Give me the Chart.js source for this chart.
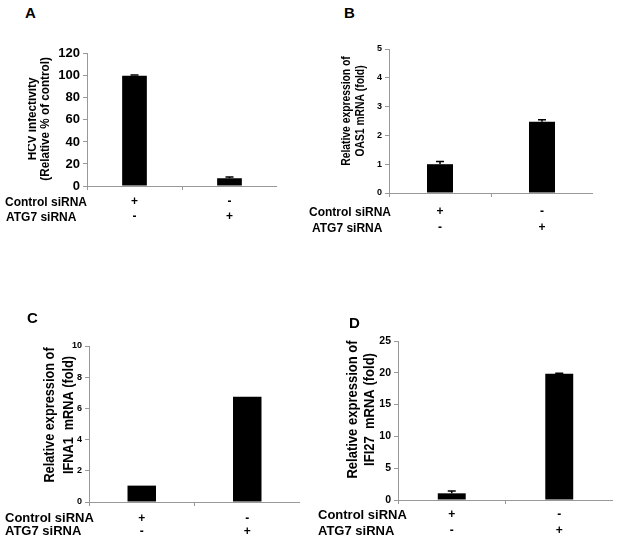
<!DOCTYPE html>
<html><head><meta charset="utf-8">
<script src="https://cdn.jsdelivr.net/npm/chart.js@4"></script>
<style>
body{margin:0;width:620px;height:541px;background:#fff;position:relative;overflow:hidden;font-family:'Liberation Sans',Arial,sans-serif;}
canvas{position:absolute;}
.t{position:absolute;font-weight:bold;color:#000;white-space:pre;}
</style></head><body>
<script>
// ---- data ----
const rowLabels = ['Control siRNA', 'ATG7 siRNA'];
const controlSiRNA = ['+', '-'];
const atg7SiRNA = ['-', '+'];
const panelLetters = ['A', 'B', 'C', 'D'];

const hcvInfectivity = [100, 7];
const hcvInfectivityErr = [0.8, 1.2];
const oas1Fold = [1.0, 2.47];
const oas1FoldErr = [0.09, 0.07];
const ifna1Fold = [1.05, 6.75];
const ifna1FoldErr = [0, 0];
const ifi27Fold = [1.05, 19.85];
const ifi27FoldErr = [0.35, 0.08];

const yTitleA = ['HCV infectivity', '(Relative % of control)'];
const yTitleB = ['Relative expression of', 'OAS1 mRNA (fold)'];
const yTitleC = ['Relative expression of', 'IFNA1  mRNA (fold)'];
const yTitleD = ['Relative expression of', 'IFI27  mRNA (fold)'];
const yMax = [120, 5, 10, 25];
const yStep = [20, 1, 2, 5];

// ---- layout ----
const FONT = "'Liberation Sans', Arial, sans-serif";
const panels = [
  {values: hcvInfectivity, err: hcvInfectivityErr, title: yTitleA, L: 28, T: 43, W: 249, H: 187, yW: 59, xH: 44, pt: 10,
   tickFont: 13, titleFont: 13, titleSqueeze: 0.9, titleX: [4.5, 17], titleDy: -1, barPct: 0.26, xPad: 4.5, xLH: 15,
   letter: {x: 25, y: 4, s: 15}, rows: [{x: 5, y: 202}, {x: 6, y: 217}], rowFont: 12},
  {values: oas1Fold, err: oas1FoldErr, title: yTitleB, L: 340, T: 39, W: 253, H: 201, yW: 49, xH: 47, pt: 10,
   tickFont: 9, titleFont: 12, titleSqueeze: 0.86, titleX: [7, 21], titleDy: -10, barPct: 0.255, xPad: 7, xLH: 16,
   letter: {x: 344, y: 4, s: 15}, rows: [{x: 309, y: 212}, {x: 312, y: 228}], rowFont: 12},
  {values: ifna1Fold, err: ifna1FoldErr, title: yTitleC, L: 40, T: 336, W: 260, H: 205, yW: 49, xH: 39, pt: 10,
   tickFont: 9, titleFont: 14, titleSqueeze: 0.91, titleX: [10, 29], titleDy: -9, barPct: 0.27, xPad: 6, xLH: 13,
   letter: {x: 27, y: 309, s: 15}, rows: [{x: 5, y: 518}, {x: 5, y: 531}], rowFont: 13},
  {values: ifi27Fold, err: ifi27FoldErr, title: yTitleD, L: 344, T: 331, W: 269, H: 210, yW: 54, xH: 41, pt: 10,
   tickFont: 10.5, titleFont: 14, titleSqueeze: 0.93, titleX: [9, 26], titleDy: -11, barPct: 0.26, xPad: 3, xLH: 16,
   letter: {x: 349, y: 314, s: 15}, rows: [{x: 318, y: 515}, {x: 318, y: 531}], rowFont: 13},
];

const errorBars = {
  id: 'errorBars',
  afterDatasetsDraw(chart, args, opts) {
    const ctx = chart.ctx;
    const ys = chart.scales.y;
    const meta = chart.getDatasetMeta(0);
    const ds = chart.data.datasets[0];
    ctx.save();
    ctx.strokeStyle = '#000';
    ctx.lineWidth = 1.5;
    meta.data.forEach((bar, i) => {
      const e = opts.err[i];
      if (!e) return;
      const yTop = ys.getPixelForValue(ds.data[i] + e);
      ctx.beginPath();
      ctx.moveTo(bar.x, bar.y);
      ctx.lineTo(bar.x, yTop);
      ctx.moveTo(bar.x - 4, yTop);
      ctx.lineTo(bar.x + 4, yTop);
      ctx.stroke();
    });
    ctx.restore();
  }
};

// vertical axis title drawn beside the y scale (two lines)
const yAxisTitle = {
  id: 'yAxisTitle',
  afterDraw(chart, args, opts) {
    const ctx = chart.ctx;
    const ca = chart.chartArea;
    const yc = (ca.top + ca.bottom) / 2 + opts.dy;
    ctx.save();
    ctx.fillStyle = '#000';
    ctx.font = 'bold ' + opts.size + 'px ' + FONT;
    ctx.textAlign = 'center';
    ctx.textBaseline = 'middle';
    opts.text.forEach((line, i) => {
      ctx.save();
      ctx.translate(opts.x[i], yc);
      ctx.rotate(-Math.PI / 2);
      ctx.scale(opts.squeeze, 1);
      ctx.fillText(line, 0, 0);
      ctx.restore();
    });
    ctx.restore();
  }
};

const xLabels = controlSiRNA.map((c, i) => [c, atg7SiRNA[i]]);

panels.forEach((p, k) => {
  const cv = document.createElement('canvas');
  cv.width = p.W; cv.height = p.H;
  cv.style.left = p.L + 'px'; cv.style.top = p.T + 'px';
  cv.style.width = p.W + 'px'; cv.style.height = p.H + 'px';
  document.body.appendChild(cv);

  new Chart(cv, {
    type: 'bar',
    data: {labels: xLabels, datasets: [{data: p.values, backgroundColor: '#000', borderWidth: 0,
      categoryPercentage: 1, barPercentage: p.barPct}]},
    options: {
      responsive: false, animation: false, devicePixelRatio: 1,
      layout: {padding: {top: p.pt, left: 0, right: 0, bottom: 0}},
      plugins: {legend: {display: false}, tooltip: {enabled: false},
        errorBars: {err: p.err},
        yAxisTitle: {text: p.title, size: p.titleFont, squeeze: p.titleSqueeze, x: p.titleX, dy: p.titleDy}},
      scales: {
        x: {
          offset: true,
          grid: {display: true, offset: true, drawOnChartArea: false, drawTicks: true, tickLength: 4, color: '#999'},
          border: {display: true, color: '#999', width: 1},
          ticks: {color: '#000', padding: p.xPad, font: {family: FONT, size: 12, weight: 'bold', lineHeight: p.xLH + 'px'}, maxRotation: 0, autoSkip: false},
          afterFit(s) { s.height = p.xH; }
        },
        y: {
          min: 0, max: yMax[k],
          grid: {display: true, drawOnChartArea: false, drawTicks: true, tickLength: 4, color: '#999'},
          border: {display: true, color: '#999', width: 1},
          ticks: {stepSize: yStep[k], color: '#000', padding: 3, font: {family: FONT, size: p.tickFont, weight: 'bold'}},
          title: {display: false},
          afterFit(s) { s.width = p.yW; }
        }
      }
    },
    plugins: [errorBars, yAxisTitle]
  });

  const lt = document.createElement('div');
  lt.className = 't';
  lt.textContent = panelLetters[k];
  lt.style.left = p.letter.x + 'px'; lt.style.top = p.letter.y + 'px';
  lt.style.fontSize = p.letter.s + 'px'; lt.style.lineHeight = '18px';
  document.body.appendChild(lt);

  rowLabels.forEach((r, j) => {
    const d = document.createElement('div');
    d.className = 't';
    d.textContent = r;
    d.style.left = p.rows[j].x + 'px';
    d.style.top = (p.rows[j].y - 8) + 'px';
    d.style.lineHeight = '16px';
    d.style.fontSize = p.rowFont + 'px';
    document.body.appendChild(d);
  });
});
</script>
</body></html>
